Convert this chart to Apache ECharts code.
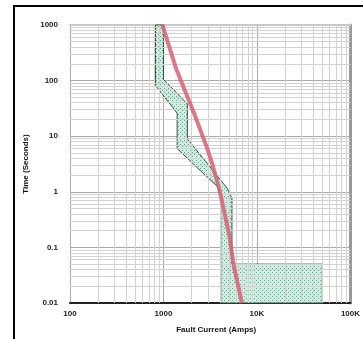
<!DOCTYPE html>
<html style="width: 100%; height: 100%">
<head>
    <meta charset="utf-8">
</head>
<script src="https://cdn.jsdelivr.net/npm/echarts@6/dist/echarts.min.js"></script>
<body style="width: 100%; height: 100%; margin: 0; background: #fff">
<div id="container" style="width: 363px; height: 339px"></div>

<script type="text/javascript">
    // tick labels
    var currentTicks = [100, 1000, 10000, 100000];
    var currentLabels = ['100', '1000', '10K', '100K'];
    var timeTicks = [0.01, 0.1, 1, 10, 100, 1000];
    var timeLabels = ['0.01', '0.1', '1', '10', '100', '1000'];
    var minorSteps = [2, 3, 4, 5, 6, 7, 8, 9];

    // device band: minimum melt (left) and total clearing (right) curves, [amps, seconds]
    var minCurve = [[820, 1000], [820, 82], [1400, 26], [1400, 6], [2700, 2.1], [3750, 1.26], [4100, 0.83], [4100, 0.01]];
    var maxCurve = [[1000, 1000], [1000, 105], [1800, 38], [1800, 9], [4800, 1.16], [5400, 0.77], [5400, 0.05], [50000, 0.05], [50000, 0.01]];

    // damage curve (red)
    var damageCurve = [[975, 1000], [1375, 158], [2140, 25], [2940, 6], [3320, 3.2], [3940, 1.16], [5040, 0.17], [5690, 0.044], [6900, 0.01]];

    var dom = document.getElementById("container");
    var myChart = echarts.init(dom);

    // dotted fill for the band
    var pat = document.createElement('canvas');
    pat.width = 4;
    pat.height = 4;
    var ctx = pat.getContext('2d');
    ctx.fillStyle = '#cdeee0';
    ctx.fillRect(0, 0, 4, 4);
    ctx.fillStyle = '#5fae8c';
    ctx.fillRect(0, 0, 1, 1);
    ctx.fillRect(2, 2, 1, 1);

    var minorX = [];
    for (var i = 0; i < currentTicks.length - 1; i++) {
        minorSteps.forEach(function (m) { minorX.push({xAxis: currentTicks[i] * m}); });
    }
    var minorY = [];
    for (var j = 0; j < timeTicks.length - 1; j++) {
        minorSteps.forEach(function (m) { minorY.push({yAxis: +(timeTicks[j] * m).toPrecision(3)}); });
    }

    var option = {
        animation: false,
        grid: {left: 70, top: 25, right: 11, bottom: 33},
        graphic: [{
            type: 'rect',
            shape: {x: 14, y: 6, width: 420, height: 420},
            style: {fill: 'none', stroke: '#000', lineWidth: 2},
            z: 100
        }],
        xAxis: [{
            type: 'log',
            logBase: 10,
            min: 100,
            max: 100000,
            name: 'Fault Current (Amps)',
            nameLocation: 'middle',
            nameGap: 23,
            nameTextStyle: {color: '#111', fontSize: 8, fontWeight: 'bold', fontFamily: 'Liberation Sans', padding: [0, 0, 0, 12]},
            axisLine: {show: true, lineStyle: {color: '#222', width: 2}},
            axisTick: {show: false},
            axisLabel: {
                margin: 7,
                formatter: function (v) {
                    var k = currentTicks.indexOf(Math.round(v));
                    return k >= 0 ? currentLabels[k] : '';
                },
                color: '#222', fontSize: 8, fontWeight: 'bold', fontFamily: 'Liberation Sans'
            },
            splitLine: {show: true, lineStyle: {color: '#aaa', width: 1}}
        }, {
            type: 'log',
            logBase: 10,
            min: 100,
            max: 100000,
            position: 'top',
            axisLine: {show: true, lineStyle: {color: '#c8c8c8', width: 2}},
            axisTick: {show: false},
            axisLabel: {show: false},
            splitLine: {show: false}
        }],
        yAxis: [{
            type: 'log',
            logBase: 10,
            min: 0.01,
            max: 1000,
            name: 'Time (Seconds)',
            nameLocation: 'middle',
            nameGap: 40,
            nameRotate: 90,
            nameTextStyle: {color: '#111', fontSize: 8, fontWeight: 'bold', fontFamily: 'Liberation Sans'},
            axisLine: {show: false},
            axisTick: {show: false},
            axisLabel: {
                margin: 12,
                formatter: function (v) {
                    for (var k = 0; k < timeTicks.length; k++) {
                        if (Math.abs(Math.log10(v) - Math.log10(timeTicks[k])) < 1e-6) return timeLabels[k];
                    }
                    return '';
                },
                color: '#222', fontSize: 8, fontWeight: 'bold', fontFamily: 'Liberation Sans'
            },
            splitLine: {show: true, lineStyle: {color: '#aaa', width: 1}}
        }, {
            type: 'log',
            logBase: 10,
            min: 0.01,
            max: 1000,
            position: 'right',
            axisLine: {show: true, lineStyle: {color: '#999', width: 3}},
            axisTick: {show: false},
            axisLabel: {show: false},
            splitLine: {show: false}
        }],
        series: [
            {
                type: 'line',
                data: [],
                silent: true,
                z: 1,
                markLine: {
                    symbol: 'none',
                    silent: true,
                    animation: false,
                    label: {show: false},
                    lineStyle: {color: '#d2d2d2', type: 'solid', width: 1},
                    data: minorX.concat(minorY)
                }
            },
            {
                type: 'custom',
                coordinateSystem: 'cartesian2d',
                z: 3,
                silent: true,
                data: [[1000, 1]],
                renderItem: function (params, api) {
                    var pts = [];
                    minCurve.forEach(function (p) { pts.push(api.coord(p)); });
                    maxCurve.slice().reverse().forEach(function (p) { pts.push(api.coord(p)); });
                    return {
                        type: 'polygon',
                        shape: {points: pts},
                        style: {fill: {image: pat, repeat: 'repeat'}, stroke: '#2f4f40', lineWidth: 1}
                    };
                }
            },
            {
                type: 'line',
                data: damageCurve,
                symbol: 'none',
                silent: true,
                z: 5,
                lineStyle: {color: 'rgba(214, 96, 116, 0.85)', width: 4}
            }
        ]
    };
    myChart.setOption(option);
</script>
</body>
</html>
